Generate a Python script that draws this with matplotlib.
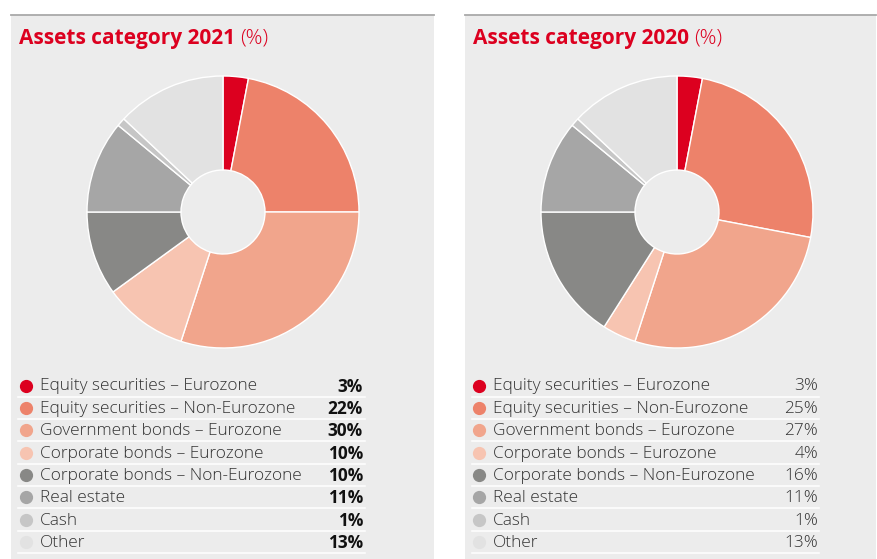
import matplotlib
matplotlib.use("Agg")
import matplotlib.pyplot as plt
from matplotlib.patches import Rectangle
from matplotlib.lines import Line2D

# Asset allocation data
categories = [
    "Equity securities \u2013 Eurozone",
    "Equity securities \u2013 Non-Eurozone",
    "Government bonds \u2013 Eurozone",
    "Corporate bonds \u2013 Eurozone",
    "Corporate bonds \u2013 Non-Eurozone",
    "Real estate",
    "Cash",
    "Other",
]
shares_2021 = [3, 22, 30, 10, 10, 11, 1, 13]
shares_2020 = [3, 25, 27, 4, 16, 11, 1, 13]
years = ["2021", "2020"]

colors = ["#dc001f", "#ed826a", "#f1a58c", "#f7c4b1",
          "#888886", "#a6a6a6", "#c6c6c6", "#e2e2e2"]

W, H = 877, 559
DPI = 100
BG = "#ececec"
RED = "#dc001f"
TXT = "#333333"
FONT = "Open Sans"

fig = plt.figure(figsize=(W / DPI, H / DPI), dpi=DPI)
fig.patch.set_facecolor("white")


def fx(px):
    return px / W


def fy(py):
    return 1 - py / H


panels = [
    dict(left=11, right=434, cx=223, cy=212, dot_x=26, text_x=40,
         val_x=363, sep0=18, sep1=365, title_x=19, bold_vals=True),
    dict(left=465, right=876, cx=677, cy=212, dot_x=479, text_x=493,
         val_x=818, sep0=472, sep1=819, title_x=473, bold_vals=False),
]
data = [shares_2021, shares_2020]

R_OUT, R_IN = 136, 42
row_y0, row_step = 386.5, 22.35

renderer = fig.canvas.get_renderer()

for p, vals, year in zip(panels, data, years):
    # panel background and top rule
    fig.patches.append(Rectangle((fx(p["left"]), 0), fx(p["right"] - p["left"]),
                                 fy(14.5), transform=fig.transFigure,
                                 facecolor=BG, edgecolor="none", zorder=-5))
    fig.lines.append(Line2D([fx(p["left"]), fx(p["right"])], [fy(14.5), fy(14.5)],
                            transform=fig.transFigure, color="#a9a9a9", lw=1.3))

    # donut chart
    ax = fig.add_axes([fx(p["cx"] - R_OUT), fy(p["cy"] + R_OUT),
                       fx(2 * R_OUT), (2 * R_OUT) / H])
    ax.pie(vals, colors=colors, startangle=90, counterclock=False, radius=1,
           wedgeprops=dict(width=1 - R_IN / R_OUT, edgecolor="white", linewidth=1.0))
    ax.set_xlim(-1, 1)
    ax.set_ylim(-1, 1)
    ax.set_aspect("auto")
    ax.axis("off")
    ax.patch.set_alpha(0)
    ax.set_zorder(2)

    # title: bold part followed by regular "(%)"
    t = fig.text(fx(p["title_x"]), fy(38.5), f"Assets category {year}",
                 color=RED, fontsize=15, fontweight="bold", family=FONT,
                 va="center", ha="left")
    bb = t.get_window_extent(renderer=renderer)
    fig.text(bb.x1 / W + fx(5), fy(38.5), "(%)", color=RED, fontsize=15,
             family=FONT, fontweight="light", va="center", ha="left")

    # legend rows
    for i, (cat, v, c) in enumerate(zip(categories, vals, colors)):
        y = row_y0 + i * row_step
        fig.lines.append(Line2D([fx(p["dot_x"])], [fy(y - 1)], transform=fig.transFigure,
                                marker="o", markersize=8.5, color=c, linestyle="none"))
        fig.text(fx(p["text_x"]), fy(y), cat, color=TXT, fontsize=12.4,
                 family=FONT, fontweight="light", va="center", ha="left")
        fig.text(fx(p["val_x"]), fy(y), f"{v}%", color="#111111" if p["bold_vals"] else TXT,
                 fontsize=12.4, family=FONT,
                 fontweight="bold" if p["bold_vals"] else "light",
                 va="center", ha="right")
        sy = y + 10
        fig.lines.append(Line2D([fx(p["sep0"]), fx(p["sep1"])], [fy(sy), fy(sy)],
                                transform=fig.transFigure, color="white", lw=1.1))

fig.savefig("out.png", dpi=DPI, facecolor=fig.get_facecolor())
